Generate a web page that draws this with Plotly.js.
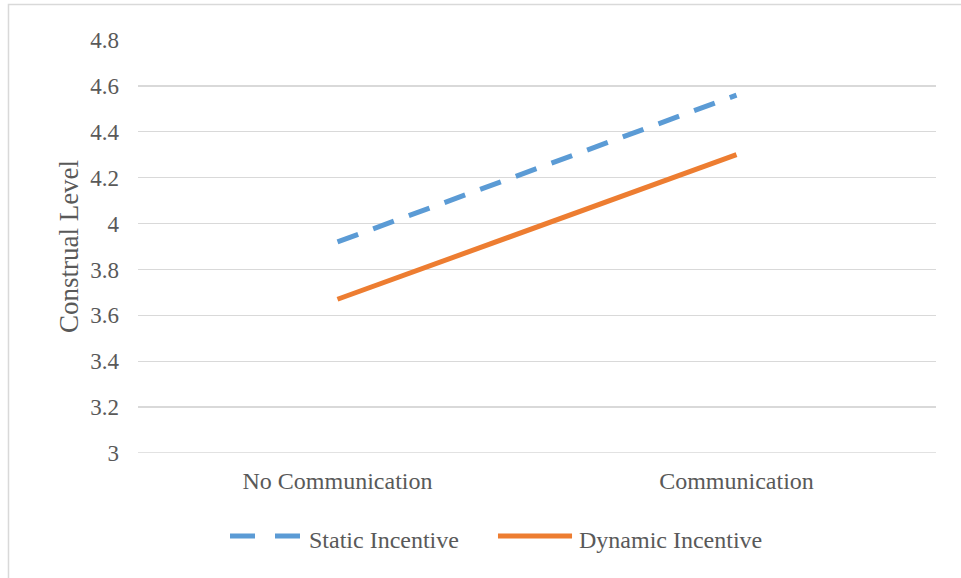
<!DOCTYPE html>
<html>
<head>
<meta charset="utf-8">
<script src="https://cdn.plot.ly/plotly-3.0.1.min.js"></script>
<style>html,body{margin:0;padding:0;background:#fff;}#chart{width:961px;height:578px;}</style>
</head>
<body>
<div id="chart"></div>
<script>
const categories = ["No Communication", "Communication"];
const staticIncentive = [3.92, 4.56];
const dynamicIncentive = [3.67, 4.30];
const seriesNames = ["Static Incentive", "Dynamic Incentive"];
const yTicks = [3, 3.2, 3.4, 3.6, 3.8, 4, 4.2, 4.4, 4.6, 4.8];
const yTickText = ["3", "3.2", "3.4", "3.6", "3.8", "4", "4.2", "4.4", "4.6", "4.8"];

const font = "Liberation Serif, Times New Roman, serif";
const blue = "#5B9BD5", orange = "#ED7D31", txt = "#595959";
const traces = [
  {x: categories, y: staticIncentive, name: seriesNames[0], type: "scatter", mode: "lines",
   line: {color: blue, width: 5, dash: "22px,16px"}, showlegend: false},
  {x: categories, y: dynamicIncentive, name: seriesNames[1], type: "scatter", mode: "lines",
   line: {color: orange, width: 5}, showlegend: false}
];
const legSymY = -0.201, legY = -0.2107;
const layout = {
  width: 961, height: 578,
  margin: {l: 138, r: 25, t: 40, b: 125},
  paper_bgcolor: "#fff", plot_bgcolor: "#fff",
  font: {family: font, size: 23, color: txt},
  showlegend: false,
  xaxis: {type: "category", range: [-0.5, 1.5], showgrid: false, zeroline: false,
          showline: false, ticks: "", ticklabelstandoff: 11, fixedrange: true,
          tickfont: {family: font, size: 24, color: txt}},
  yaxis: {range: [3, 4.8], tickvals: yTicks, ticktext: yTickText, showgrid: true,
          gridcolor: "#d9d9d9", gridwidth: 1.3, zeroline: false, showline: false, ticks: "",
          ticklabelstandoff: 18, tickfont: {family: font, size: 23, color: txt},
          title: {text: "Construal Level", standoff: 3, font: {family: font, size: 27, color: txt}}},
  shapes: [
    {type: "line", xref: "paper", yref: "y", x0: 0, x1: 1, y0: 3, y1: 3,
     line: {color: "#d9d9d9", width: 1.3}, layer: "below"},
    {type: "rect", xref: "paper", yref: "paper", x0: -0.1623, x1: 1.04, y0: -0.32, y1: 1.086,
     line: {color: "#d9d9d9", width: 1.5}, fillcolor: "rgba(0,0,0,0)", layer: "below"},
    {type: "line", xref: "paper", yref: "paper", x0: 0.1153, x1: 0.2030, y0: legSymY, y1: legSymY,
     line: {color: blue, width: 5, dash: "25px,20px"}},
    {type: "line", xref: "paper", yref: "paper", x0: 0.4511, x1: 0.5439, y0: legSymY, y1: legSymY,
     line: {color: orange, width: 5}}
  ],
  annotations: [
    {xref: "paper", yref: "paper", x: 0.2118, y: legY, xanchor: "left", yanchor: "middle",
     text: seriesNames[0], showarrow: false, font: {family: font, size: 24, color: txt}},
    {xref: "paper", yref: "paper", x: 0.5501, y: legY, xanchor: "left", yanchor: "middle",
     text: seriesNames[1], showarrow: false, font: {family: font, size: 24, color: txt}}
  ]
};
Plotly.newPlot("chart", traces, layout, {displayModeBar: false, staticPlot: true});
</script>
</body>
</html>
